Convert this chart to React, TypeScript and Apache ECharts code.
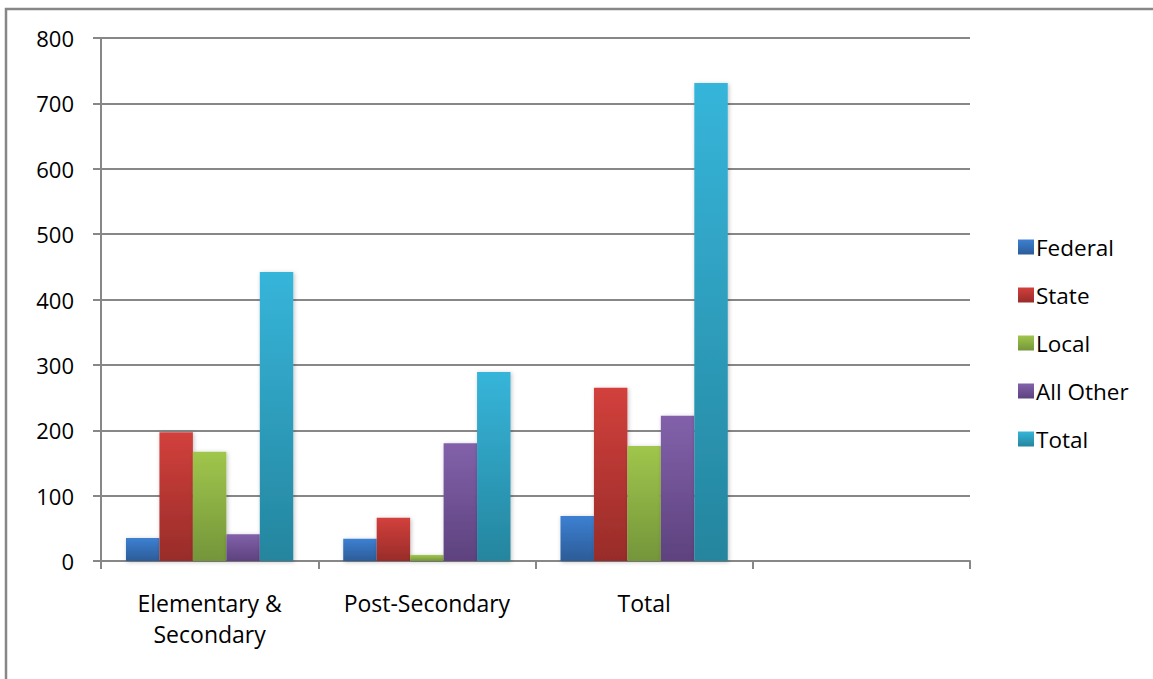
import React, { useEffect, useRef } from "react";
import * as echarts from "echarts";

const categories = ["Elementary &\nSecondary", "Post-Secondary", "Total", ""];
const seriesNames = ["Federal", "State", "Local", "All Other", "Total"];
const federal = [35, 34, 69, null];
const state = [197, 66, 265, null];
const local = [167, 9, 176, null];
const allOther = [41, 180, 222, null];
const total = [442, 289, 731, null];
const yTicks = { min: 0, max: 800, interval: 100 };

const colorStops: [string, string][] = [
  ["#3d80d2", "#2c5c98"],
  ["#d2403c", "#982c29"],
  ["#a0c64c", "#74953a"],
  ["#8261aa", "#5d427e"],
  ["#36b5da", "#25859e"],
];

const grad = (top: string, bottom: string) =>
  new echarts.graphic.LinearGradient(0, 0, 0, 1, [
    { offset: 0, color: top },
    { offset: 1, color: bottom },
  ]);

export default function App() {
  const ref = useRef<HTMLDivElement>(null);
  useEffect(() => {
    if (!ref.current) return;
    const chart = echarts.init(ref.current, null, { renderer: "svg" });
    const font = "'Open Sans', 'Noto Sans', sans-serif";
    const gray = "#878787";
    const data = [federal, state, local, allOther, total];
    chart.setOption({
      animation: false,
      textStyle: { fontFamily: font, color: "#000" },
      graphic: [
        {
          type: "rect",
          shape: { x: 6, y: 9, width: 1300, height: 800 },
          style: { fill: "none", stroke: gray, lineWidth: 2.5 },
          z: -10,
          silent: true,
        },
      ],
      grid: { left: 101, right: 183, top: 38, bottom: 118, containLabel: false },
      legend: {
        orient: "vertical",
        left: 1013,
        top: 230,
        itemWidth: 16,
        itemHeight: 15,
        itemGap: 24,
        icon: "rect",
        textStyle: { fontFamily: font, fontSize: 22.5, color: "#000", lineHeight: 24, padding: [0, 0, 0, -3] },
        data: seriesNames,
      },
      xAxis: {
        type: "category",
        data: categories,
        boundaryGap: true,
        axisLine: { show: true, lineStyle: { color: gray, width: 2 } },
        axisTick: { show: true, length: 8, interval: 0, lineStyle: { color: gray, width: 2 } },
        axisLabel: {
          interval: 0,
          margin: 26,
          fontSize: 23,
          lineHeight: 31,
          color: "#000",
          fontFamily: font,
        },
        splitLine: { show: false },
      },
      yAxis: {
        type: "value",
        min: yTicks.min,
        max: yTicks.max,
        interval: yTicks.interval,
        axisLine: { show: true, lineStyle: { color: gray, width: 2 } },
        axisTick: { show: true, length: 8, lineStyle: { color: gray, width: 2 } },
        axisLabel: { margin: 27, fontSize: 22, color: "#000", fontFamily: font },
        splitLine: { show: true, lineStyle: { color: gray, width: 2 } },
      },
      series: seriesNames.map((name, i) => ({
        name,
        type: "bar",
        data: data[i],
        barGap: "0%",
        barCategoryGap: "23%",
        itemStyle: {
          color: grad(colorStops[i][0], colorStops[i][1]),
          shadowColor: "rgba(0,0,0,0.25)",
          shadowBlur: 4,
          shadowOffsetX: 1,
          shadowOffsetY: 1,
        },
      })),
    });
    return () => chart.dispose();
  }, []);
  return (
    <div
      ref={ref}
      style={{ position: "fixed", left: 0, top: 0, width: 1153, height: 679, background: "#fff" }}
    />
  );
}
